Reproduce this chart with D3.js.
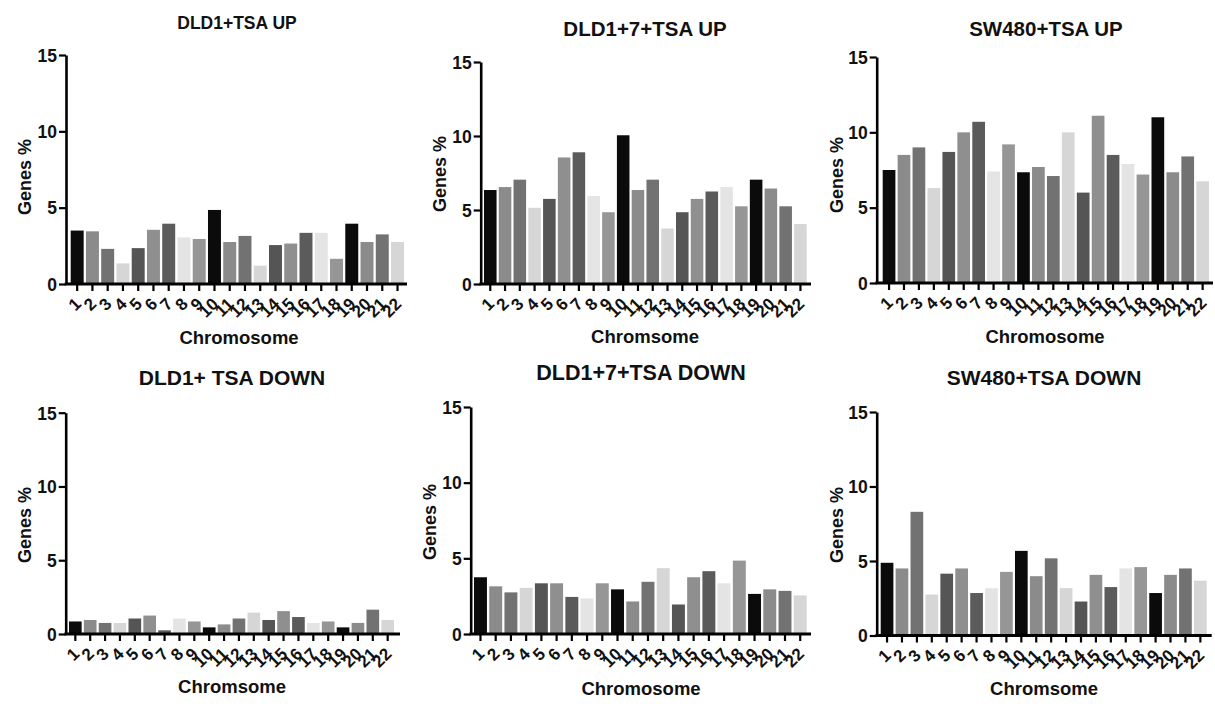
<!DOCTYPE html>
<html>
<head>
<meta charset="utf-8">
<script src="https://cdn.jsdelivr.net/npm/d3@7"></script>
<style>
  body { margin: 0; background: #fff; }
  svg text { font-family: "Liberation Sans", Arial, Helvetica, sans-serif; font-weight: bold; fill: #111; }
</style>
</head>
<body>
<svg id="chart" width="1215" height="706"></svg>
<script>
(function() {

  // ---------- data
  var chromosomes = ['1', '2', '3', '4', '5', '6', '7', '8', '9', '10', '11',
    '12', '13', '14', '15', '16', '17', '18', '19', '20', '21', '22'];
  var yTicks = [0, 5, 10, 15];

  var dld1Up = [3.5, 3.45, 2.3, 1.35, 2.35, 3.55, 3.95, 3.05, 2.95, 4.85, 2.75,
    3.15, 1.2, 2.55, 2.65, 3.35, 3.35, 1.65, 3.95, 2.75, 3.25, 2.75];
  var dld17Up = [6.35, 6.55, 7.05, 5.15, 5.75, 8.55, 8.9, 5.95, 4.85, 10.05, 6.35,
    7.05, 3.75, 4.85, 5.75, 6.25, 6.55, 5.25, 7.05, 6.45, 5.25, 4.05];
  var sw480Up = [7.5, 8.5, 9.0, 6.3, 8.7, 10.0, 10.7, 7.4, 9.2, 7.35, 7.7,
    7.1, 10.0, 6.0, 11.1, 8.5, 7.9, 7.2, 11.0, 7.35, 8.4, 6.75];
  var dld1Down = [0.85, 0.95, 0.75, 0.75, 1.05, 1.25, 0.25, 1.05, 0.85, 0.45, 0.65,
    1.05, 1.45, 0.95, 1.55, 1.15, 0.75, 0.85, 0.45, 0.75, 1.65, 0.95];
  var dld17Down = [3.75, 3.15, 2.75, 3.05, 3.35, 3.35, 2.45, 2.35, 3.35, 2.95, 2.15,
    3.45, 4.35, 1.95, 3.75, 4.15, 3.35, 4.85, 2.65, 2.95, 2.85, 2.55];
  var sw480Down = [4.88, 4.5, 8.3, 2.75, 4.15, 4.5, 2.85, 3.17, 4.27, 5.68, 3.98,
    5.18, 3.18, 2.28, 4.07, 3.25, 4.5, 4.59, 2.85, 4.07, 4.5, 3.68];

  var titles = ['DLD1+TSA UP', 'DLD1+7+TSA UP', 'SW480+TSA UP',
    'DLD1+ TSA DOWN', 'DLD1+7+TSA DOWN', 'SW480+TSA DOWN'];
  var xTitles = ['Chromosome', 'Chromsome', 'Chromosome',
    'Chromsome', 'Chromosome', 'Chromsome'];
  var series = [dld1Up, dld17Up, sw480Up, dld1Down, dld17Down, sw480Down];

  // prism style grey cycle
  var greys = ['#0b0b0b', '#8b8b8b', '#727272', '#d6d6d6', '#555555',
    '#8f8f8f', '#5b5b5b', '#e4e4e4', '#969696'];

  // ---------- layout (pixel positions of each panel)
  var layout = [
    { x0: 66, x1: 407, barL: 70.7, barR: 404, top: 55, bottom: 284,
      tx: 237, ty: 29, tsize: 17.5, xx: 239, xy: 344, yx: 31, yy: 177 },
    { x0: 480.7, x1: 811, barL: 484, barR: 806.7, top: 62, bottom: 284,
      tx: 645, ty: 36, tsize: 20.5, xx: 645, xy: 343, yx: 446, yy: 174 },
    { x0: 876.7, x1: 1213, barL: 882.7, barR: 1209, top: 57, bottom: 283,
      tx: 1046, ty: 36, tsize: 20.5, xx: 1045, xy: 343, yx: 843, yy: 175 },
    { x0: 65.7, x1: 400, barL: 69, barR: 394, top: 412.7, bottom: 634,
      tx: 232, ty: 385, tsize: 21, xx: 232, xy: 693, yx: 31, yy: 525 },
    { x0: 470.7, x1: 811, barL: 474, barR: 806.7, top: 407, bottom: 634,
      tx: 641, ty: 380, tsize: 21.5, xx: 641, xy: 695, yx: 436, yy: 522 },
    { x0: 876.7, x1: 1211.7, barL: 880.7, barR: 1206.7, top: 412, bottom: 635.5,
      tx: 1044, ty: 385, tsize: 21, xx: 1044, xy: 695, yx: 843, yy: 525 }
  ];

  var svg = d3.select('#chart');

  // ----------
  var drawPanel = function(values, i) {
    var L = layout[i];
    var g = svg.append('g');

    var x = d3.scaleBand()
      .domain(chromosomes)
      .range([L.barL, L.barR])
      .paddingInner(0.15)
      .paddingOuter(0);

    var y = d3.scaleLinear()
      .domain([0, 15])
      .range([L.bottom, L.top]);

    // bars
    g.selectAll('rect.bar')
      .data(values)
      .enter().append('rect')
      .attr('class', 'bar')
      .attr('x', function(d, j) { return x(chromosomes[j]); })
      .attr('width', x.bandwidth())
      .attr('y', function(d) { return y(d); })
      .attr('height', function(d) { return y(0) - y(d); })
      .style('fill', function(d, j) { return greys[j % greys.length]; });

    // y axis
    var yAxis = g.append('g')
      .attr('transform', 'translate(' + L.x0 + ',0)')
      .call(d3.axisLeft(y).tickValues(yTicks).tickSize(7).tickSizeOuter(0).tickPadding(2));

    yAxis.select('.domain').style('stroke', '#000').style('stroke-width', 2.6);
    yAxis.selectAll('.tick line').style('stroke', '#000').style('stroke-width', 2.2);
    yAxis.selectAll('.tick text')
      .style('font-size', '17.5px')
      .style('fill', '#111')
      .attr('dy', '0.36em');

    // x axis
    var xAxis = g.append('g')
      .attr('transform', 'translate(0,' + L.bottom + ')')
      .call(d3.axisBottom(x).tickSize(7).tickSizeOuter(0));

    xAxis.select('.domain').remove();
    xAxis.append('line')
      .attr('x1', L.x0 - 1.3)
      .attr('x2', L.x1)
      .style('stroke', '#000')
      .style('stroke-width', 2.8);
    xAxis.selectAll('.tick line').style('stroke', '#000').style('stroke-width', 2.2);
    xAxis.selectAll('.tick text')
      .style('font-size', '17px')
      .style('fill', '#111')
      .style('text-anchor', 'end')
      .attr('x', 0)
      .attr('y', 0)
      .attr('dy', 0)
      .attr('transform', 'translate(5,21) rotate(-45)');

    // titles
    g.append('text')
      .attr('x', L.tx)
      .attr('y', L.ty)
      .style('text-anchor', 'middle')
      .style('font-size', L.tsize + 'px')
      .text(titles[i]);

    g.append('text')
      .attr('x', L.xx)
      .attr('y', L.xy)
      .style('text-anchor', 'middle')
      .style('font-size', '18.5px')
      .text(xTitles[i]);

    g.append('text')
      .attr('transform', 'translate(' + L.yx + ',' + L.yy + ') rotate(-90)')
      .style('text-anchor', 'middle')
      .style('font-size', '18px')
      .text('Genes %');
  };

  series.forEach(drawPanel);

})();
</script>
</body>
</html>
